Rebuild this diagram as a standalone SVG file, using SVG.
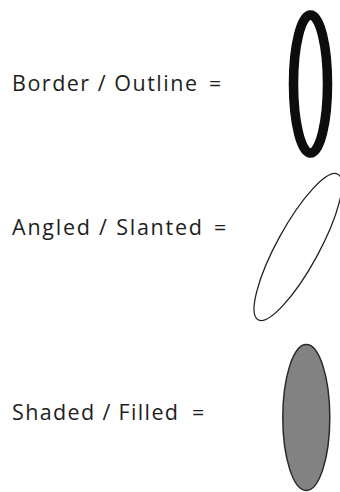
<svg xmlns="http://www.w3.org/2000/svg" width="340" height="492" viewBox="0 0 340 492">
<style>
.lbl{font-family:"Open Sans","Liberation Sans",sans-serif;font-size:21.5px;fill:#1e1e1e}
</style>
<rect width="340" height="492" fill="#ffffff"/>
<g id="border">
<text class="lbl" x="12" y="91" textLength="185" lengthAdjust="spacing">Border / Outline</text>
<text class="lbl" x="209" y="91">=</text>
<ellipse cx="310.5" cy="84" rx="17" ry="69" fill="none" stroke="#0d0d0d" stroke-width="9.5"/>
</g>
<g id="angled">
<text class="lbl" x="12" y="235" textLength="190" lengthAdjust="spacing">Angled / Slanted</text>
<text class="lbl" x="214" y="235">=</text>
<ellipse cx="298" cy="247" rx="21" ry="83" transform="rotate(28.7 298 247)" fill="none" stroke="#222" stroke-width="1.3"/>
</g>
<g id="shaded">
<text class="lbl" x="12" y="420" textLength="166" lengthAdjust="spacing">Shaded / Filled</text>
<text class="lbl" x="192" y="420">=</text>
<ellipse cx="306.3" cy="417.5" rx="23.5" ry="73" fill="#828282" stroke="#2a2a2a" stroke-width="1.5"/>
</g>
</svg>
